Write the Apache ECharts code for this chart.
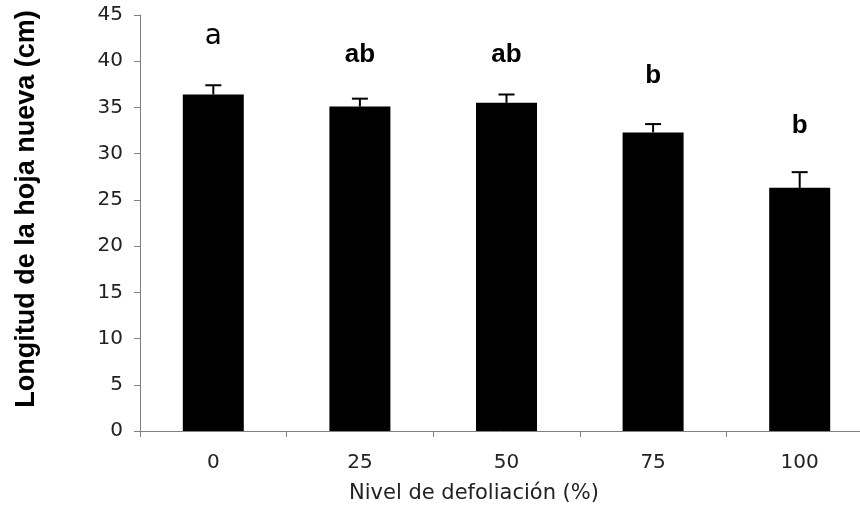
<!DOCTYPE html>
<html>
<head>
<meta charset="utf-8">
<script src="https://cdn.jsdelivr.net/npm/echarts@6/dist/echarts.min.js"></script>
<style>html,body{margin:0;padding:0;background:#fff}#c{width:860px;height:520px}</style>
</head>
<body>
<div id="c"></div>
<script>
var categories = ['0', '25', '50', '75', '100'];
var means = [36.4, 35.1, 35.5, 32.3, 26.3];
var errors = [1.0, 0.85, 0.9, 0.9, 1.7];
var letters = ['a', 'ab', 'ab', 'b', 'b'];
var letterLevels = [42.6, 40.7, 40.7, 38.4, 33.0];
var yTicks = { min: 0, max: 45, interval: 5 };

var chart = echarts.init(document.getElementById('c'));
var errData = means.map(function (m, i) { return [i, m, m + errors[i]]; });
var letterData = letters.map(function (l, i) {
  return {
    value: [i, letterLevels[i]], name: l,
    label: i === 0
      ? { fontSize: 28, fontWeight: 'normal', fontFamily: 'DejaVu Sans', color: '#000' }
      : { fontSize: 26, fontWeight: 'bold', fontFamily: 'Liberation Sans', color: '#000' }
  };
});

chart.setOption({
  animation: false,
  grid: { left: 140, width: 733, top: 15, bottom: 89, outerBoundsMode: 'none', containLabel: false },
  xAxis: {
    type: 'category',
    data: categories,
    axisLine: { lineStyle: { color: '#808080', width: 1 } },
    axisTick: { show: true, length: 6, lineStyle: { color: '#808080' } },
    axisLabel: { color: '#222', fontSize: 20, fontFamily: 'DejaVu Sans', margin: 22 },
    name: 'Nivel de defoliación (%)',
    nameLocation: 'middle',
    nameGap: 52,
    nameTextStyle: { color: '#222', fontSize: 21, fontFamily: 'DejaVu Sans', padding: [0, 65, 0, 0] }
  },
  yAxis: {
    type: 'value',
    min: yTicks.min, max: yTicks.max, interval: yTicks.interval,
    axisLine: { show: true, lineStyle: { color: '#808080', width: 1 } },
    axisTick: { show: true, length: 6, lineStyle: { color: '#808080' } },
    splitLine: { show: false },
    axisLabel: { color: '#222', fontSize: 20, fontFamily: 'DejaVu Sans', margin: 17 },
    name: 'Longitud de la hoja nueva (cm)',
    nameLocation: 'middle',
    nameGap: 100,
    nameTextStyle: { color: '#000', fontSize: 27, fontWeight: 'bold', fontFamily: 'Liberation Sans', padding: [0, 0, 0, 28] }
  },
  series: [
    {
      type: 'bar',
      data: means,
      barWidth: 61,
      itemStyle: { color: '#000' }
    },
    {
      type: 'custom',
      data: errData,
      z: 3,
      renderItem: function (params, api) {
        var x = api.value(0);
        var lo = api.coord([x, api.value(1)]);
        var hi = api.coord([x, api.value(2)]);
        var hw = 8;
        return {
          type: 'group',
          children: [
            { type: 'line', shape: { x1: hi[0], y1: lo[1], x2: hi[0], y2: hi[1] }, style: { stroke: '#000', lineWidth: 2 } },
            { type: 'line', shape: { x1: hi[0] - hw, y1: hi[1], x2: hi[0] + hw, y2: hi[1] }, style: { stroke: '#000', lineWidth: 2 } }
          ]
        };
      }
    },
    {
      type: 'scatter',
      data: letterData,
      symbolSize: 0,
      itemStyle: { opacity: 1, color: '#000' },
      label: {
        show: true,
        position: 'inside',
        formatter: function (p) { return p.name; },
        color: '#000',
        opacity: 1
      }
    }
  ]
});
</script>
</body>
</html>
